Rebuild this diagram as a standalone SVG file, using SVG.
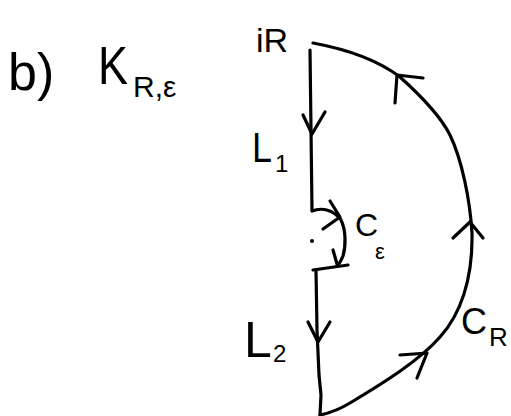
<svg xmlns="http://www.w3.org/2000/svg" width="511" height="416" viewBox="0 0 511 416">
<style>
.s{fill:none;stroke:#000;stroke-width:3.2;stroke-linecap:round;stroke-linejoin:round}
.t{font-family:"Liberation Sans","DejaVu Sans",sans-serif;fill:#000}
</style>
<rect width="511" height="416" fill="#fff"/>
<g id="title">
<text class="t" x="8" y="90" font-size="52">b)</text>
<text class="t" x="98" y="84" font-size="54" textLength="30" lengthAdjust="spacingAndGlyphs">K</text>
<text class="t" x="133" y="97" font-size="30">R,ε</text>
</g>
<g id="node-iR"><text class="t" x="256" y="52" font-size="34">iR</text></g>
<g id="node-L1"><text class="t" x="252" y="162" font-size="42" textLength="20" lengthAdjust="spacingAndGlyphs">L</text><text class="t" x="275" y="172" font-size="24">1</text></g>
<g id="node-L2"><text class="t" x="244" y="357" font-size="50">L</text><text class="t" x="273" y="362" font-size="24">2</text></g>
<g id="node-Ce"><text class="t" x="355" y="236" font-size="32">C</text><text class="t" x="375" y="259" font-size="22">ε</text></g>
<g id="node-CR"><text class="t" x="461" y="334" font-size="36">C</text><text class="t" x="489" y="346" font-size="26">R</text></g>
<g id="connectors">
<path class="s" d="M310,50 L312,210"/>
<path class="s" d="M312,211 C322,207 334,210 341,220 C346,230 346,246 343,256 C341,261 339,264 337,266"/>
<path class="s" d="M313,270 L348,265"/>
<path class="s" d="M316,270 L317,330 L319,375 L321,395 L320,415"/>
<path class="s" d="M313,43 C340,48 375,58 400,77 C420,95 440,115 450,135 C462,160 470,200 472,233 C473,280 460,315 440,337 C420,360 385,382 350,403 C340,409 330,413 320,415"/>
<path class="s" d="M303,115 L312,134 L325,112"/>
<path class="s" d="M308,322 L318,342 L330,322"/>
<path class="s" d="M330,201 L340,217 L323,229"/>
<path class="s" d="M333,250 L337,264"/>
<path class="s" d="M395,103 L397,75 L423,78"/>
<path class="s" d="M453,238 L470,222 L483,238"/>
<path class="s" d="M400,355 L427,353 L417,378"/>
<circle cx="312" cy="241" r="2"/>
</g>
</svg>
